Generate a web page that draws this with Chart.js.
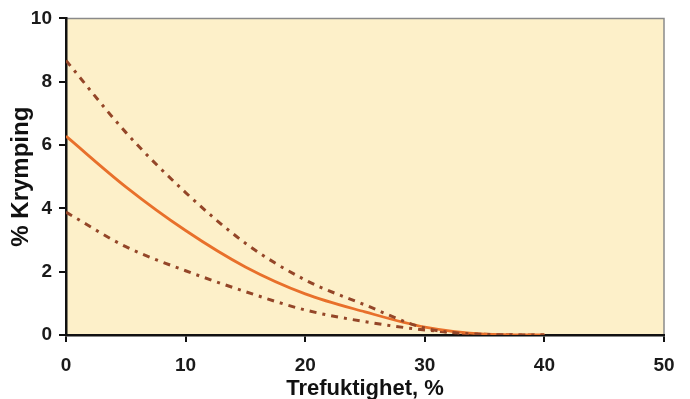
<!DOCTYPE html>
<html>
<head>
<meta charset="utf-8">
<script src="https://cdn.jsdelivr.net/npm/chart.js@4.4.0/dist/chart.umd.min.js"></script>
<style>
  html, body { margin: 0; padding: 0; background: #fff; }
  #wrap { width: 690px; height: 399px; }
</style>
</head>
<body>
<div id="wrap"><canvas id="krympChart" width="690" height="399"></canvas></div>
<script>
// Trefuktighet (%) og krymping (%)
const fuktighet = [0, 5, 10, 15, 20, 25, 30, 35, 40];
const krympMiddel = [6.28, 4.68, 3.3, 2.15, 1.3, 0.73, 0.25, 0.03, 0];
const krympOvre = [8.67, 6.4, 4.5, 2.9, 1.74, 0.95, 0.22, 0.02, 0];
const krympNedre = [3.88, 2.79, 2.03, 1.37, 0.79, 0.42, 0.16, 0.02, 0];
const xTicks = [0, 10, 20, 30, 40, 50];
const yTicks = [0, 2, 4, 6, 8, 10];

const tilPunkter = arr => fuktighet.map((x, i) => ({ x: x, y: arr[i] }));

// bakgrunn + grå ramme oppe og til høyre
const plotBakgrunn = {
    id: 'plotBakgrunn',
    beforeDraw(chart) {
        const { ctx, chartArea: a } = chart;
        ctx.save();
        ctx.fillStyle = '#fdf0c9';
        ctx.fillRect(a.left, a.top, a.right - a.left, a.bottom - a.top);
        ctx.strokeStyle = '#8a8a8a';
        ctx.lineWidth = 1.5;
        ctx.beginPath();
        ctx.moveTo(a.left, a.top);
        ctx.lineTo(a.right, a.top);
        ctx.lineTo(a.right, a.bottom);
        ctx.stroke();
        ctx.restore();
    }
};

const font = { family: 'Liberation Sans, Arial, sans-serif', weight: 'bold' };

new Chart(document.getElementById('krympChart'), {
    type: 'line',
    data: {
        datasets: [{
            label: 'Øvre',
            data: tilPunkter(krympOvre),
            borderColor: '#944628',
            borderWidth: 3,
            borderDash: [7, 6, 3, 6],
            pointRadius: 0,
            cubicInterpolationMode: 'monotone',
            fill: false
        }, {
            label: 'Middel',
            data: tilPunkter(krympMiddel),
            borderColor: '#e8702b',
            borderWidth: 2.8,
            pointRadius: 0,
            cubicInterpolationMode: 'monotone',
            fill: false
        }, {
            label: 'Nedre',
            data: tilPunkter(krympNedre),
            borderColor: '#944628',
            borderWidth: 3,
            borderDash: [7, 6, 3, 6],
            pointRadius: 0,
            cubicInterpolationMode: 'monotone',
            fill: false
        }]
    },
    options: {
        responsive: false,
        animation: false,
        layout: { padding: { left: 0, right: 26, top: 18, bottom: 0 } },
        plugins: { legend: { display: false }, tooltip: { enabled: false } },
        scales: {
            x: {
                type: 'linear',
                min: 0,
                max: 50,
                afterBuildTicks: axis => { axis.ticks = xTicks.map(v => ({ value: v })); },
                afterFit: axis => { axis.height = 64; },
                grid: { drawOnChartArea: false, tickLength: 7, color: '#111', lineWidth: 2 },
                border: { color: '#111', width: 2.5 },
                ticks: { color: '#1a1a1a', font: { ...font, size: 19 }, padding: 12, maxRotation: 0 },
                title: {
                    display: true,
                    text: 'Trefuktighet, %',
                    color: '#111',
                    font: { ...font, size: 22 },
                    padding: { top: 0, bottom: -3 }
                }
            },
            y: {
                min: 0,
                max: 10,
                afterBuildTicks: axis => { axis.ticks = yTicks.map(v => ({ value: v })); },
                afterFit: axis => { axis.width = 66; },
                grid: { drawOnChartArea: false, tickLength: 7, color: '#111', lineWidth: 2 },
                border: { color: '#111', width: 2.5 },
                ticks: { color: '#1a1a1a', font: { ...font, size: 19 }, padding: 7 },
                title: {
                    display: true,
                    text: '% Krymping',
                    color: '#111',
                    font: { ...font, size: 24 },
                    padding: { top: 7, bottom: 0 }
                }
            }
        }
    },
    plugins: [plotBakgrunn]
});
</script>
</body>
</html>
